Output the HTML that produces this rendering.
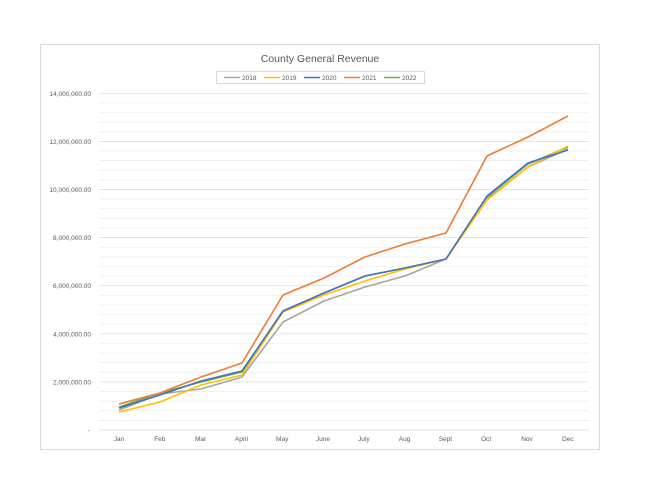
<!DOCTYPE html><html><head><style>body{margin:0;background:#fff}svg{display:block}text{font-family:"Liberation Sans",sans-serif}</style></head><body>
<svg width="647" height="500" viewBox="0 0 647 500">
<rect x="40.5" y="44.5" width="559" height="405" fill="#fff" stroke="#d9d9d9"/>
<text x="320" y="62" font-size="10.5" fill="#595959" text-anchor="middle">County General Revenue</text>
<rect x="216.5" y="71.5" width="208" height="12" fill="#fff" stroke="#d9d9d9"/>
<g font-size="6.5" fill="#595959">
<line x1="224" y1="77.5" x2="240" y2="77.5" stroke="#a5a5a5" stroke-width="1.5"/><text x="242" y="80">2018</text>
<line x1="264" y1="77.5" x2="280" y2="77.5" stroke="#ffc000" stroke-width="1.5"/><text x="282" y="80">2019</text>
<line x1="304" y1="77.5" x2="320" y2="77.5" stroke="#4472c4" stroke-width="1.5"/><text x="322" y="80">2020</text>
<line x1="344" y1="77.5" x2="360" y2="77.5" stroke="#ed7d31" stroke-width="1.5"/><text x="362" y="80">2021</text>
<line x1="384" y1="77.5" x2="400" y2="77.5" stroke="#70ad47" stroke-width="1.5"/><text x="402" y="80">2022</text>
</g>
<g stroke="#ececec" stroke-width="0.7" id="g"></g>
<g id="lab" font-size="6.5" fill="#595959" text-anchor="end"></g>
<g id="xl" font-size="6.5" fill="#595959" text-anchor="middle"></g>
<g fill="none" stroke-width="1.6" stroke-linejoin="round">
<polyline stroke="#70ad47" points="119,407 160,393 201,382 242,372 283,311 324,293 365,276 405,268 446,259 487,197 528,164 568,147"/>
<polyline stroke="#a5a5a5" points="119,410 160,394 201,389 242,377 283,322 324,301 365,287 405,276 446,259 487,199 528,167 568,149"/>
<polyline stroke="#ffc000" points="119,412 160,402 201,385 242,375 283,312 324,295 365,281 405,269 446,259 487,200 528,167 568,146"/>
<polyline stroke="#4472c4" points="119,408 160,395 201,381 242,371 283,311 324,293 365,276 405,268 446,259 487,196 528,163 568,150"/>
<polyline stroke="#ed7d31" points="119,404 160,393 201,377 242,363 283,295 324,278 365,257 405,244 446,233 487,156 528,137 568,116"/>
</g>
</svg>
<script>
var ns="http://www.w3.org/2000/svg",g=document.getElementById("g"),lab=document.getElementById("lab"),xl=document.getElementById("xl");
for(var i=0;i<=35;i++){var y=430-i*0.4*24.05;var l=document.createElementNS(ns,"line");l.setAttribute("x1",99);l.setAttribute("x2",589);l.setAttribute("y1",y);l.setAttribute("y2",y);if(i%5==0)l.setAttribute("stroke","#d9d9d9");g.appendChild(l);}
var labs=["-","2,000,000.00","4,000,000.00","6,000,000.00","8,000,000.00","10,000,000.00","12,000,000.00","14,000,000.00"];
labs.forEach(function(s,i){var t=document.createElementNS(ns,"text");t.setAttribute("x",i==0?90:91);t.setAttribute("y",430-i*48.1+2.5);t.textContent=s;lab.appendChild(t);});
["Jan","Feb","Mar","April","May","June","July","Aug","Sept","Oct","Nov","Dec"].forEach(function(s,i){var t=document.createElementNS(ns,"text");t.setAttribute("x",119+i*40.8);t.setAttribute("y",441);t.textContent=s;xl.appendChild(t);});
</script>
</body></html>
